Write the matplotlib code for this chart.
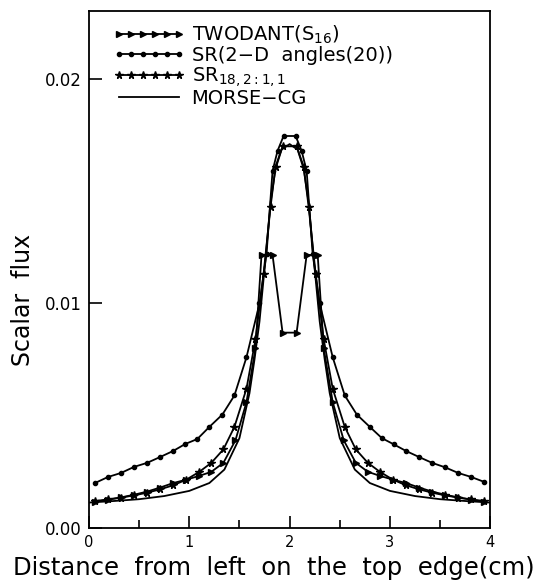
import matplotlib
matplotlib.use("Agg")
import matplotlib.pyplot as plt
from matplotlib.ticker import MultipleLocator

plt.rcParams['font.family'] = ['DejaVu Sans']
plt.rcParams['mathtext.default'] = 'regular'

#%% data
x_twodant = [0.06, 0.19, 0.32, 0.45, 0.58, 0.71, 0.84, 0.97, 1.10, 1.22, 1.34, 1.46, 1.57, 1.66, 1.72, 1.83,
             1.93, 2.07,
             2.17, 2.28, 2.34, 2.43, 2.54, 2.66, 2.78, 2.90, 3.03, 3.16, 3.29, 3.42, 3.55, 3.68, 3.81, 3.94]
y_twodant = [0.00116, 0.00126, 0.00136, 0.00148, 0.00162, 0.00180, 0.00200, 0.00215, 0.00232, 0.00250, 0.00290,
             0.00390, 0.00560, 0.00800, 0.01216, 0.01216,
             0.00870, 0.00870,
             0.01216, 0.01216, 0.00800, 0.00560, 0.00390, 0.00290, 0.00250, 0.00232, 0.00215, 0.00200,
             0.00180, 0.00162, 0.00148, 0.00136, 0.00126, 0.00116]

x_sr2d = [0.06, 0.19, 0.32, 0.45, 0.58, 0.71, 0.84, 0.96, 1.08, 1.20, 1.33, 1.45, 1.57, 1.70, 1.77, 1.83, 1.88,
          1.94, 2.06,
          2.12, 2.17, 2.23, 2.30, 2.43, 2.55, 2.67, 2.80, 2.92, 3.04, 3.16, 3.29, 3.42, 3.55, 3.68, 3.81, 3.94]
y_sr2d = [0.00200, 0.00227, 0.00245, 0.00272, 0.00290, 0.00316, 0.00343, 0.00374, 0.00396, 0.00450, 0.00505,
          0.00590, 0.00760, 0.01000, 0.01220, 0.01590, 0.01680,
          0.01746, 0.01746,
          0.01680, 0.01590, 0.01220, 0.01000, 0.00760, 0.00590, 0.00505, 0.00450, 0.00400, 0.00372,
          0.00343, 0.00316, 0.00290, 0.00270, 0.00245, 0.00227, 0.00205]

x_sr18 = [0.06, 0.19, 0.32, 0.45, 0.58, 0.71, 0.84, 0.97, 1.10, 1.22, 1.34, 1.45, 1.57, 1.66, 1.74, 1.81, 1.86, 1.93,
          2.07, 2.14, 2.19, 2.26, 2.34, 2.43, 2.55, 2.66, 2.78, 2.90, 3.03, 3.16, 3.29, 3.42, 3.55, 3.68, 3.81, 3.94]
y_sr18 = [0.00120, 0.00127, 0.00135, 0.00145, 0.00157, 0.00172, 0.00190, 0.00215, 0.00250, 0.00290, 0.00350,
          0.00450, 0.00620, 0.00840, 0.01130, 0.01430, 0.01610, 0.01700,
          0.01700, 0.01610, 0.01430, 0.01130, 0.00840, 0.00620, 0.00450, 0.00350, 0.00290, 0.00250,
          0.00215, 0.00190, 0.00172, 0.00157, 0.00145, 0.00135, 0.00127, 0.00120]

x_morse = [0.0, 0.25, 0.5, 0.75, 1.0, 1.2, 1.35, 1.5, 1.6, 1.65, 1.7, 1.76, 1.81, 1.86, 1.92, 2.0,
           2.08, 2.14, 2.19, 2.24, 2.3, 2.35, 2.4, 2.5, 2.65, 2.8, 3.0, 3.25, 3.5, 3.75, 4.0]
y_morse = [0.00113, 0.00120, 0.00128, 0.00142, 0.00165, 0.00200, 0.00260, 0.00400, 0.00600, 0.00750, 0.00920,
           0.01200, 0.01450, 0.01600, 0.01685, 0.01710,
           0.01685, 0.01600, 0.01450, 0.01200, 0.00920, 0.00750, 0.00600, 0.00400, 0.00260, 0.00200,
           0.00165, 0.00142, 0.00128, 0.00120, 0.00113]

labels = ['TWODANT(S$_{16}$)', 'SR(2\u2212D  angles(20))', 'SR$_{18,2:1,1}$', 'MORSE\u2212CG']
y_ticks = [0.0, 0.01, 0.02]
y_tick_labels = ['0.00', '0.01', '0.02']

#%% plot
fig = plt.figure(figsize=(5.49, 5.84), dpi=100)
ax = fig.add_axes([0.162, 0.096, 0.731, 0.886])

lw = 1.3
ax.plot(x_twodant, y_twodant, color='k', lw=lw, marker='>', ms=4.5, label=labels[0])
ax.plot(x_sr2d, y_sr2d, color='k', lw=lw, marker='o', ms=3, label=labels[1])
ax.plot(x_sr18, y_sr18, color='k', lw=lw, marker='*', ms=5.5, label=labels[2])
ax.plot(x_morse, y_morse, color='k', lw=lw, label=labels[3])

ax.set_xlim(0, 4)
ax.set_ylim(0, 0.02305)
ax.set_yticks(y_ticks)
ax.set_yticklabels(y_tick_labels)
ax.xaxis.set_major_locator(MultipleLocator(1))
ax.xaxis.set_minor_locator(MultipleLocator(0.5))
ax.tick_params(axis='both', which='major', direction='in', length=9, width=1.2)
ax.tick_params(axis='x', which='minor', direction='in', length=6, width=1.2)
ax.tick_params(axis='y', which='major', pad=5, labelsize=12)
ax.tick_params(axis='x', which='major', pad=5, labelsize=10.5)
for s in ax.spines.values():
    s.set_linewidth(1.3)

ax.set_xlabel('Distance  from  left  on  the  top  edge(cm)', fontsize=17.5)
ax.xaxis.set_label_coords(0.461, -0.055)
ax.set_ylabel('Scalar  flux', fontsize=17)
ax.yaxis.set_label_coords(-0.135, 0.44)

leg = ax.legend(loc='upper left', bbox_to_anchor=(0.042, 0.989), frameon=False, fontsize=14,
                handlelength=3.65, numpoints=6, labelspacing=0.0, handletextpad=0.36,
                borderaxespad=0.0)

fig.savefig('out.png', dpi=100)
